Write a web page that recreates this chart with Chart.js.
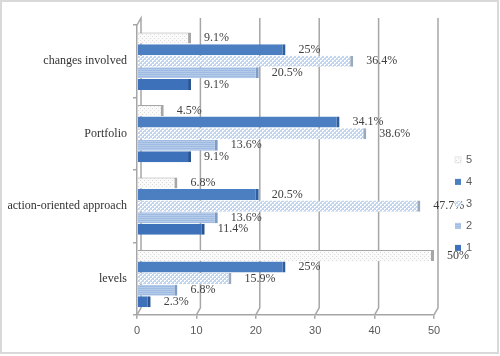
<!DOCTYPE html>
<html>
<head>
<meta charset="utf-8">
<script src="https://cdn.jsdelivr.net/npm/chart.js@4"></script>
<style>
  html, body { margin: 0; padding: 0; background: #ffffff; }
  #wrap { width: 500px; height: 356px; position: relative; }
</style>
</head>
<body>
<div id="wrap"><canvas id="c" width="500" height="356"></canvas></div>
<script>
// ---- data ----
const categories = ['changes involved', 'Portfolio', 'action-oriented approach', 'levels'];
const seriesNames = ['5', '4', '3', '2', '1'];
const s5 = [9.1, 4.5, 6.8, 50];
const s4 = [25, 34.1, 20.5, 25];
const s3 = [36.4, 38.6, 47.7, 15.9];
const s2 = [20.5, 13.6, 13.6, 6.8];
const s1 = [9.1, 9.1, 11.4, 2.3];
const xTicks = [0, 10, 20, 30, 40, 50];

// ---- patterns ----
function makePattern(size, draw) {
  const c = document.createElement('canvas');
  c.width = size; c.height = size;
  const g = c.getContext('2d');
  draw(g, size);
  return g.createPattern(c, 'repeat');
}
const ctxMain = document.getElementById('c').getContext('2d');
const pat5 = makePattern(4, (g) => {
  g.fillStyle = '#fafafa'; g.fillRect(0, 0, 4, 4);
  g.fillStyle = '#dadada'; g.fillRect(0, 0, 1, 1); g.fillRect(2, 2, 1, 1);
});
const pat3 = makePattern(4, (g) => {
  g.fillStyle = '#c2d5ee'; g.fillRect(0, 0, 4, 4);
  g.fillStyle = '#ffffff';
  g.fillRect(0, 0, 2, 1); g.fillRect(2, 2, 2, 1);
  g.fillRect(0, 1, 1, 1); g.fillRect(2, 3, 1, 1);
});
const pat2 = makePattern(4, (g) => {
  g.fillStyle = '#9fbbe2'; g.fillRect(0, 0, 4, 4);
  g.fillStyle = '#b4cbea'; g.fillRect(0, 1, 4, 1); g.fillRect(0, 3, 4, 1);
});

const seriesValues = [s5, s4, s3, s2, s1];
const fills = [pat5, '#4b7fc2', pat3, pat2, '#3d71b9'];
const caps = ['#a6a6a6', '#2f5e9e', '#9aa9bd', '#7f9cc4', '#2a5590'];
const borders = [
  { top: 1, right: 3, bottom: 0, left: 0 },
  { top: 0, right: 3, bottom: 0, left: 0 },
  { top: 0, right: 3, bottom: 0, left: 0 },
  { top: 0, right: 3, bottom: 0, left: 0 },
  { top: 0, right: 3, bottom: 0, left: 0 }
];

const datasets = seriesNames.map((name, i) => ({
  label: name,
  data: seriesValues[i],
  backgroundColor: fills[i],
  borderColor: caps[i],
  borderWidth: borders[i],
  borderSkipped: false,
  categoryPercentage: 0.8,
  barPercentage: 0.95
}));

// ---- plugins ----
const framePlugin = {
  id: 'frame',
  beforeDraw(chart) {
    const g = chart.ctx;
    g.save();
    g.fillStyle = '#ffffff';
    g.fillRect(0, 0, chart.width, chart.height);
    g.restore();
  },
  afterDraw(chart) {
    const g = chart.ctx;
    g.save();
    g.strokeStyle = '#d9d9d9';
    g.lineWidth = 2;
    g.strokeRect(1, 1, chart.width - 3, chart.height - 4);
    g.restore();
  }
};

const wallPlugin = {
  id: 'wall',
  beforeDatasetsDraw(chart) {
    const g = chart.ctx;
    const xs = chart.scales.x;
    const area = chart.chartArea;
    const D = 4, H = 7;
    g.save();
    g.strokeStyle = '#a6a6a6';
    g.lineWidth = 1.5;
    xTicks.forEach((v, i) => {
      const x = xs.getPixelForValue(v);
      g.beginPath();
      g.moveTo(x, area.bottom);
      g.lineTo(x + D, area.bottom - H);
      g.lineTo(x + D, area.top - H);
      if (i === 0) g.lineTo(x, area.top);
      g.stroke();
    });
    g.restore();
  }
};

const labelPlugin = {
  id: 'valueLabels',
  afterDatasetsDraw(chart) {
    const g = chart.ctx;
    g.save();
    g.font = '12px "Liberation Serif", "Times New Roman", serif';
    g.fillStyle = '#404040';
    g.textAlign = 'left';
    g.textBaseline = 'middle';
    chart.data.datasets.forEach((ds, di) => {
      const meta = chart.getDatasetMeta(di);
      meta.data.forEach((el, j) => {
        g.fillText(ds.data[j] + '%', el.x + 13, el.y);
      });
    });
    g.restore();
  }
};

const legendPlugin = {
  id: 'sideLegend',
  afterDraw(chart) {
    const g = chart.ctx;
    const area = chart.chartArea;
    const x0 = area.right + 21;
    const n = chart.data.datasets.length;
    const step = 22;
    const cy = (area.top + area.bottom) / 2 + 34;
    const y0 = cy - step * (n - 1) / 2;
    g.save();
    g.font = '11px "Liberation Sans", Arial, sans-serif';
    g.textBaseline = 'middle';
    g.textAlign = 'left';
    chart.data.datasets.forEach((ds, i) => {
      const y = y0 + i * step;
      g.fillStyle = ds.backgroundColor;
      g.fillRect(x0, y - 3, 6, 6);
      if (i === 0) { g.strokeStyle = '#d0d0d0'; g.lineWidth = 0.5; g.strokeRect(x0, y - 3, 6, 6); }
      g.fillStyle = '#595959';
      g.fillText(ds.label, x0 + 11, y);
    });
    g.restore();
  }
};

new Chart(ctxMain, {
  type: 'bar',
  data: { labels: categories, datasets: datasets },
  options: {
    indexAxis: 'y',
    responsive: false,
    animation: false,
    layout: { padding: { top: 25, right: 66, bottom: 12, left: 0 } },
    plugins: { legend: { display: false }, tooltip: { enabled: false } },
    scales: {
      x: {
        min: 0, max: 50,
        afterBuildTicks: (s) => { s.ticks = xTicks.map(v => ({ value: v })); },
        grid: { drawOnChartArea: false, drawTicks: true, tickLength: 4, color: '#a6a6a6', lineWidth: 1.5 },
        border: { display: true, color: '#a6a6a6', width: 1.5 },
        ticks: { color: '#595959', padding: 6, font: { family: '"Liberation Sans", Arial, sans-serif', size: 11 } }
      },
      y: {
        afterFit: (s) => { s.width = 137; },
        grid: { drawOnChartArea: false, drawTicks: true, tickLength: 4, offset: true, color: '#a6a6a6', lineWidth: 1.5 },
        border: { display: true, color: '#a6a6a6', width: 1.5 },
        ticks: { color: '#333333', padding: 6, font: { family: '"Liberation Serif", "Times New Roman", serif', size: 12 } }
      }
    }
  },
  plugins: [framePlugin, wallPlugin, labelPlugin, legendPlugin]
});
</script>
</body>
</html>
